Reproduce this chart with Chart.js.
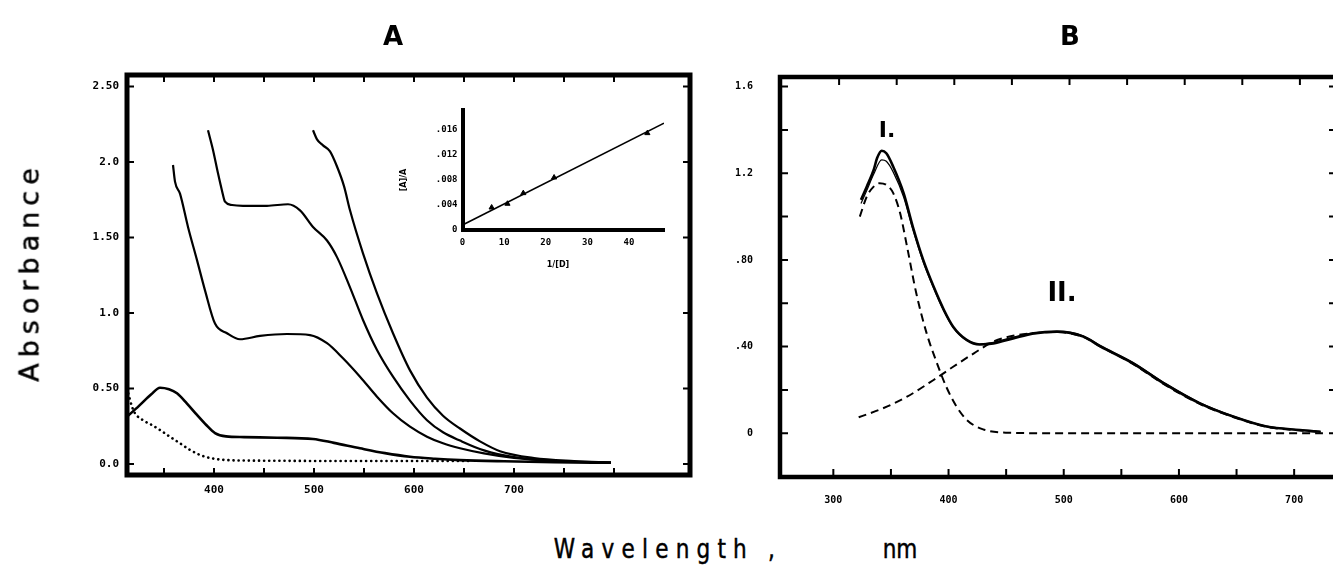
<!DOCTYPE html>
<html><head><meta charset="utf-8">
<script src="https://cdn.jsdelivr.net/npm/chart.js@4.4.1/dist/chart.umd.min.js"></script>
<style>
html,body{margin:0;padding:0;background:#fff;width:1333px;height:565px;overflow:hidden;position:relative}
.box{position:absolute}
.t{position:absolute;transform:translate(-50%,-50%);white-space:nowrap;color:#000;font-family:'DejaVu Sans',sans-serif;line-height:1}
.hv{-webkit-text-stroke:0.5px #000}
</style></head><body>
<div class="box" style="left:0;top:0"><canvas id="cA" width="700" height="520"></canvas></div>
<div class="box" style="left:700px;top:0"><canvas id="cB" width="640" height="520"></canvas></div>
<div class="box" style="left:395px;top:95px"><canvas id="cIn" width="280" height="185"></canvas></div>

<div class="t" style="left:393px;top:36px;font-weight:bold;font-size:26px">A</div>
<div class="t" style="left:1070px;top:36px;font-weight:bold;font-size:26px">B</div>
<div class="t hv" style="left:29px;top:272px;transform:translate(-50%,-50%) rotate(-90deg);font-size:27px;letter-spacing:6px">Absorbance</div>
<div class="t hv" style="left:668px;top:548px;transform:translate(-50%,-50%) scaleX(0.8);font-size:27px;letter-spacing:9px">Wavelength ,</div>
<div class="t hv" style="left:900px;top:548px;transform:translate(-50%,-50%) scaleX(0.8);font-size:27px">nm</div>
<div class="t" style="left:887px;top:130px;font-weight:bold;font-size:22px">I.</div>
<div class="t" style="left:1062px;top:292px;font-weight:bold;font-size:26px">II.</div>
<div class="t" style="left:404px;top:180px;transform:translate(-50%,-50%) rotate(-90deg);font-weight:bold;font-size:8px">[A]/A</div>
<div class="t" style="left:558px;top:265px;font-weight:bold;font-size:8px">1/[D]</div>

<script>
// ---------- Panel A data ----------
const wlA1 = [313, 325, 337, 346, 355, 363, 373, 383, 392, 401, 412, 430, 463, 499, 520, 546, 571, 596, 621, 646, 690, 740, 797];
const absA1 = [0.313, 0.385, 0.46, 0.505, 0.495, 0.468, 0.40, 0.325, 0.26, 0.205, 0.183, 0.178, 0.174, 0.166, 0.14, 0.104, 0.072, 0.048, 0.035, 0.026, 0.018, 0.012, 0.008];
const wlA2 = [359, 361, 366, 374, 383, 391, 401, 413, 426, 446, 473, 496, 513, 529, 546, 563, 579, 596, 613, 629, 646, 670, 700, 740, 797];
const absA2 = [1.98, 1.87, 1.79, 1.57, 1.35, 1.15, 0.93, 0.866, 0.826, 0.848, 0.861, 0.854, 0.80, 0.70, 0.578, 0.446, 0.336, 0.247, 0.181, 0.137, 0.104, 0.07, 0.04, 0.02, 0.01];
const wlA3 = [394, 399, 404, 408, 411, 418, 429, 453, 474, 486, 499, 513, 523, 536, 549, 563, 579, 596, 613, 629, 646, 670, 700, 740, 797];
const absA3 = [2.21, 2.08, 1.925, 1.81, 1.737, 1.715, 1.71, 1.71, 1.72, 1.68, 1.57, 1.48, 1.37, 1.17, 0.954, 0.755, 0.578, 0.42, 0.29, 0.21, 0.155, 0.09, 0.045, 0.02, 0.01];
const wlA4 = [499, 503, 509, 516, 523, 530, 536, 549, 563, 579, 596, 613, 629, 646, 666, 686, 720, 760, 797];
const absA4 = [2.21, 2.15, 2.11, 2.07, 1.97, 1.84, 1.68, 1.395, 1.13, 0.866, 0.62, 0.44, 0.32, 0.235, 0.15, 0.085, 0.04, 0.02, 0.01];
const wlDot = [313, 318, 321, 329, 338, 346, 356, 366, 376, 386, 396, 413, 450, 520, 600, 655];
const absDot = [0.50, 0.38, 0.336, 0.29, 0.258, 0.225, 0.18, 0.137, 0.093, 0.06, 0.04, 0.026, 0.022, 0.02, 0.02, 0.02];
const xTicksA = [400, 500, 600, 700];
const xMarksA = [350, 400, 450, 500, 550, 600, 650, 700, 750, 800];
const yTicksA = [0, 0.5, 1, 1.5, 2, 2.5];
const yLabelsA = ['0.0', '0.50', '1.0', '1.50', '2.0', '2.50'];

// ---------- Inset data ----------
const invD = [7.0, 10.8, 14.6, 22.0, 44.4];
const ratio = [0.0036, 0.0042, 0.0059, 0.0084, 0.0155];
const fitInvD = [0, 48.4];
const fitRatio = [0.0008, 0.0171];
const xTicksIn = [0, 10, 20, 30, 40];
const yTicksIn = [0, 0.004, 0.008, 0.012, 0.016];
const yLabelsIn = ['0', '.004', '.008', '.012', '.016'];

// ---------- Panel B data ----------
const wlB = [324, 329, 335, 338, 342, 346, 352, 361, 369, 378, 387, 396, 404, 416, 427, 439, 456, 474, 494, 517, 532, 560, 589, 618, 647, 676, 705, 723];
const absB = [1.077, 1.138, 1.215, 1.27, 1.304, 1.292, 1.23, 1.108, 0.953, 0.80, 0.677, 0.569, 0.492, 0.43, 0.41, 0.415, 0.438, 0.461, 0.469, 0.446, 0.40, 0.323, 0.223, 0.138, 0.077, 0.031, 0.015, 0.007];
const wlFit = [324, 329, 335, 342, 346, 352, 361, 369, 378, 387, 396, 404, 416, 427, 439, 456, 474, 494, 517, 532, 560, 589, 618, 647, 676, 705, 723];
const absFit = [1.06, 1.12, 1.195, 1.262, 1.255, 1.205, 1.09, 0.94, 0.79, 0.67, 0.562, 0.488, 0.428, 0.412, 0.42, 0.443, 0.463, 0.47, 0.45, 0.405, 0.328, 0.228, 0.142, 0.08, 0.033, 0.016, 0.008];
const wlI = [323, 329, 335, 340, 346, 352, 358, 364, 372, 381, 390, 398, 407, 416, 430, 450, 500, 550, 600, 650, 700, 725];
const absI = [1.0, 1.092, 1.138, 1.154, 1.146, 1.108, 1.015, 0.861, 0.646, 0.461, 0.323, 0.215, 0.123, 0.061, 0.018, 0.003, 0, 0, 0, 0, 0, 0];
const wlII = [322, 343, 364, 387, 404, 422, 439, 456, 474, 494, 517, 532, 560, 589, 618, 647, 676, 705, 723];
const absII = [0.074, 0.115, 0.169, 0.246, 0.307, 0.369, 0.423, 0.45, 0.462, 0.467, 0.444, 0.40, 0.32, 0.22, 0.136, 0.075, 0.03, 0.013, 0.006];
const xTicksB = [300, 400, 500, 600, 700];
const xMarksB = [300, 350, 400, 450, 500, 550, 600, 650, 700];
const xMarksTopB = [305, 355, 405, 455, 505, 555, 605, 655, 705];
const yTicksB = [0, 0.4, 0.8, 1.2, 1.6];
const yLabelsB = ['0', '.40', '.80', '1.2', '1.6'];
const yMarksB = [0, 0.2, 0.4, 0.6, 0.8, 1.0, 1.2, 1.4, 1.6];

// ---------- helpers ----------
Chart.defaults.font.family = "'DejaVu Sans Mono', monospace";
Chart.defaults.color = '#000';
const pts = (xs, ys) => xs.map((x, i) => ({x, y: ys[i]}));
const frameTicks = {
  id: 'frameTicks',
  afterDatasetsDraw(chart, args, o) {
    if (!o || !o.on) return;
    const {ctx, chartArea: a, scales: {x, y}} = chart;
    ctx.save();
    ctx.strokeStyle = '#000';
    ctx.lineWidth = o.tickWidth;
    ctx.beginPath();
    (o.bottom || []).forEach(v => { const p = x.getPixelForValue(v); ctx.moveTo(p, a.bottom); ctx.lineTo(p, a.bottom - o.len); });
    (o.top || []).forEach(v => { const p = x.getPixelForValue(v); ctx.moveTo(p, a.top); ctx.lineTo(p, a.top + o.len); });
    (o.left || []).forEach(v => { const p = y.getPixelForValue(v); ctx.moveTo(a.left, p); ctx.lineTo(a.left + o.len, p); });
    (o.right || []).forEach(v => { const p = y.getPixelForValue(v); ctx.moveTo(a.right, p); ctx.lineTo(a.right - o.len, p); });
    ctx.stroke();
    ctx.lineWidth = o.frameWidth;
    ctx.strokeRect(a.left, a.top, a.right - a.left, a.bottom - a.top);
    ctx.restore();
  }
};
Chart.register(frameTicks);

function line(data, w, dash, cap) {
  return {data, showLine: true, borderColor: '#000', backgroundColor: '#000', borderWidth: w,
    borderDash: dash || [], borderCapStyle: cap || 'butt', pointRadius: 0, cubicInterpolationMode: 'monotone'};
}
function lookup(vals, labels) {
  return v => { const i = vals.findIndex(t => Math.abs(t - v) < 1e-9); return i >= 0 ? labels[i] : ''; };
}
const base = {
  responsive: false, animation: false, events: [],
  plugins: {legend: {display: false}, tooltip: {enabled: false}}
};

// ---------- Chart A ----------
new Chart(document.getElementById('cA'), {
  type: 'scatter',
  data: {datasets: [
    line(pts(wlDot, absDot), 2.6, [0.1, 5], 'round'),
    line(pts(wlA1, absA1), 2.6),
    line(pts(wlA2, absA2), 2.2),
    line(pts(wlA3, absA3), 2.2),
    line(pts(wlA4, absA4), 2.2)
  ]},
  options: Object.assign({}, base, {
    layout: {padding: {top: 75, right: 10, left: 0, bottom: 0}, autoPadding: false},
    scales: {
      x: {type: 'linear', min: 313, max: 876,
        grid: {display: false, drawTicks: false}, border: {display: false},
        afterBuildTicks: s => { s.ticks = xTicksA.map(v => ({value: v})); },
        ticks: {padding: 9, font: {size: 11, weight: 'bold'}, maxRotation: 0, autoSkip: false, callback: v => String(v)},
        afterFit: s => { s.height = 45; s.paddingLeft = 0; s.paddingRight = 0; }},
      y: {type: 'linear', min: -0.0728, max: 2.576,
        grid: {display: false, drawTicks: false}, border: {display: false},
        afterBuildTicks: s => { s.ticks = yTicksA.map(v => ({value: v})); },
        ticks: {padding: 8, font: {size: 11, weight: 'bold'}, autoSkip: false, callback: lookup(yTicksA, yLabelsA)},
        afterFit: s => { s.width = 127; s.paddingTop = 0; s.paddingBottom = 0; }}
    },
    plugins: Object.assign({}, base.plugins, {frameTicks: {on: true, len: 7, tickWidth: 2, frameWidth: 5,
      bottom: xMarksA, top: xMarksA, left: yTicksA, right: yTicksA}})
  })
});

// ---------- Inset ----------
new Chart(document.getElementById('cIn'), {
  type: 'scatter',
  data: {datasets: [
    Object.assign(line(pts(fitInvD, fitRatio), 1.6), {cubicInterpolationMode: 'default', tension: 0}),
    {data: pts(invD, ratio), showLine: false, pointStyle: 'triangle', pointRadius: 3,
      backgroundColor: '#000', borderColor: '#000', borderWidth: 1}
  ]},
  options: Object.assign({}, base, {
    layout: {padding: {top: 15, right: 11, left: 0, bottom: 0}, autoPadding: false},
    scales: {
      x: {type: 'linear', min: 0, max: 48.4,
        grid: {display: false, drawTicks: false}, border: {display: true, width: 4, color: '#000'},
        afterBuildTicks: s => { s.ticks = xTicksIn.map(v => ({value: v})); },
        ticks: {padding: 7, font: {size: 9, weight: 'bold'}, maxRotation: 0, autoSkip: false, callback: v => String(v)},
        afterFit: s => { s.height = 50; s.paddingLeft = 0; s.paddingRight = 0; }},
      y: {type: 'linear', min: 0, max: 0.0192,
        grid: {display: false, drawTicks: false}, border: {display: true, width: 4, color: '#000'},
        afterBuildTicks: s => { s.ticks = yTicksIn.map(v => ({value: v})); },
        ticks: {padding: 5, font: {size: 9, weight: 'bold'}, autoSkip: false, callback: lookup(yTicksIn, yLabelsIn)},
        afterFit: s => { s.width = 67.5; s.paddingTop = 0; s.paddingBottom = 0; }}
    }
  })
});

// ---------- Chart B ----------
new Chart(document.getElementById('cB'), {
  type: 'scatter',
  data: {datasets: [
    line(pts(wlII, absII), 2, [8, 5]),
    line(pts(wlI, absI), 2, [8, 5]),
    line(pts(wlFit, absFit), 1.2),
    line(pts(wlB, absB), 2.6)
  ]},
  options: Object.assign({}, base, {
    layout: {padding: {top: 77, right: 3, left: 0, bottom: 0}, autoPadding: false},
    scales: {
      x: {type: 'linear', min: 253.7, max: 737.2,
        grid: {display: false, drawTicks: false}, border: {display: false},
        afterBuildTicks: s => { s.ticks = xTicksB.map(v => ({value: v})); },
        ticks: {padding: 17, font: {size: 10, weight: 'bold'}, maxRotation: 0, autoSkip: false, callback: v => String(v)},
        afterFit: s => { s.height = 43; s.paddingLeft = 0; s.paddingRight = 0; }},
      y: {type: 'linear', min: -0.2017, max: 1.644,
        grid: {display: false, drawTicks: false}, border: {display: false},
        afterBuildTicks: s => { s.ticks = yTicksB.map(v => ({value: v})); },
        ticks: {padding: 27, font: {size: 10, weight: 'bold'}, autoSkip: false, callback: lookup(yTicksB, yLabelsB)},
        afterFit: s => { s.width = 80; s.paddingTop = 0; s.paddingBottom = 0; }}
    },
    plugins: Object.assign({}, base.plugins, {frameTicks: {on: true, len: 8, tickWidth: 2, frameWidth: 4.5,
      bottom: xMarksB, top: xMarksTopB, left: yMarksB, right: yMarksB}})
  })
});
</script>
</body></html>
